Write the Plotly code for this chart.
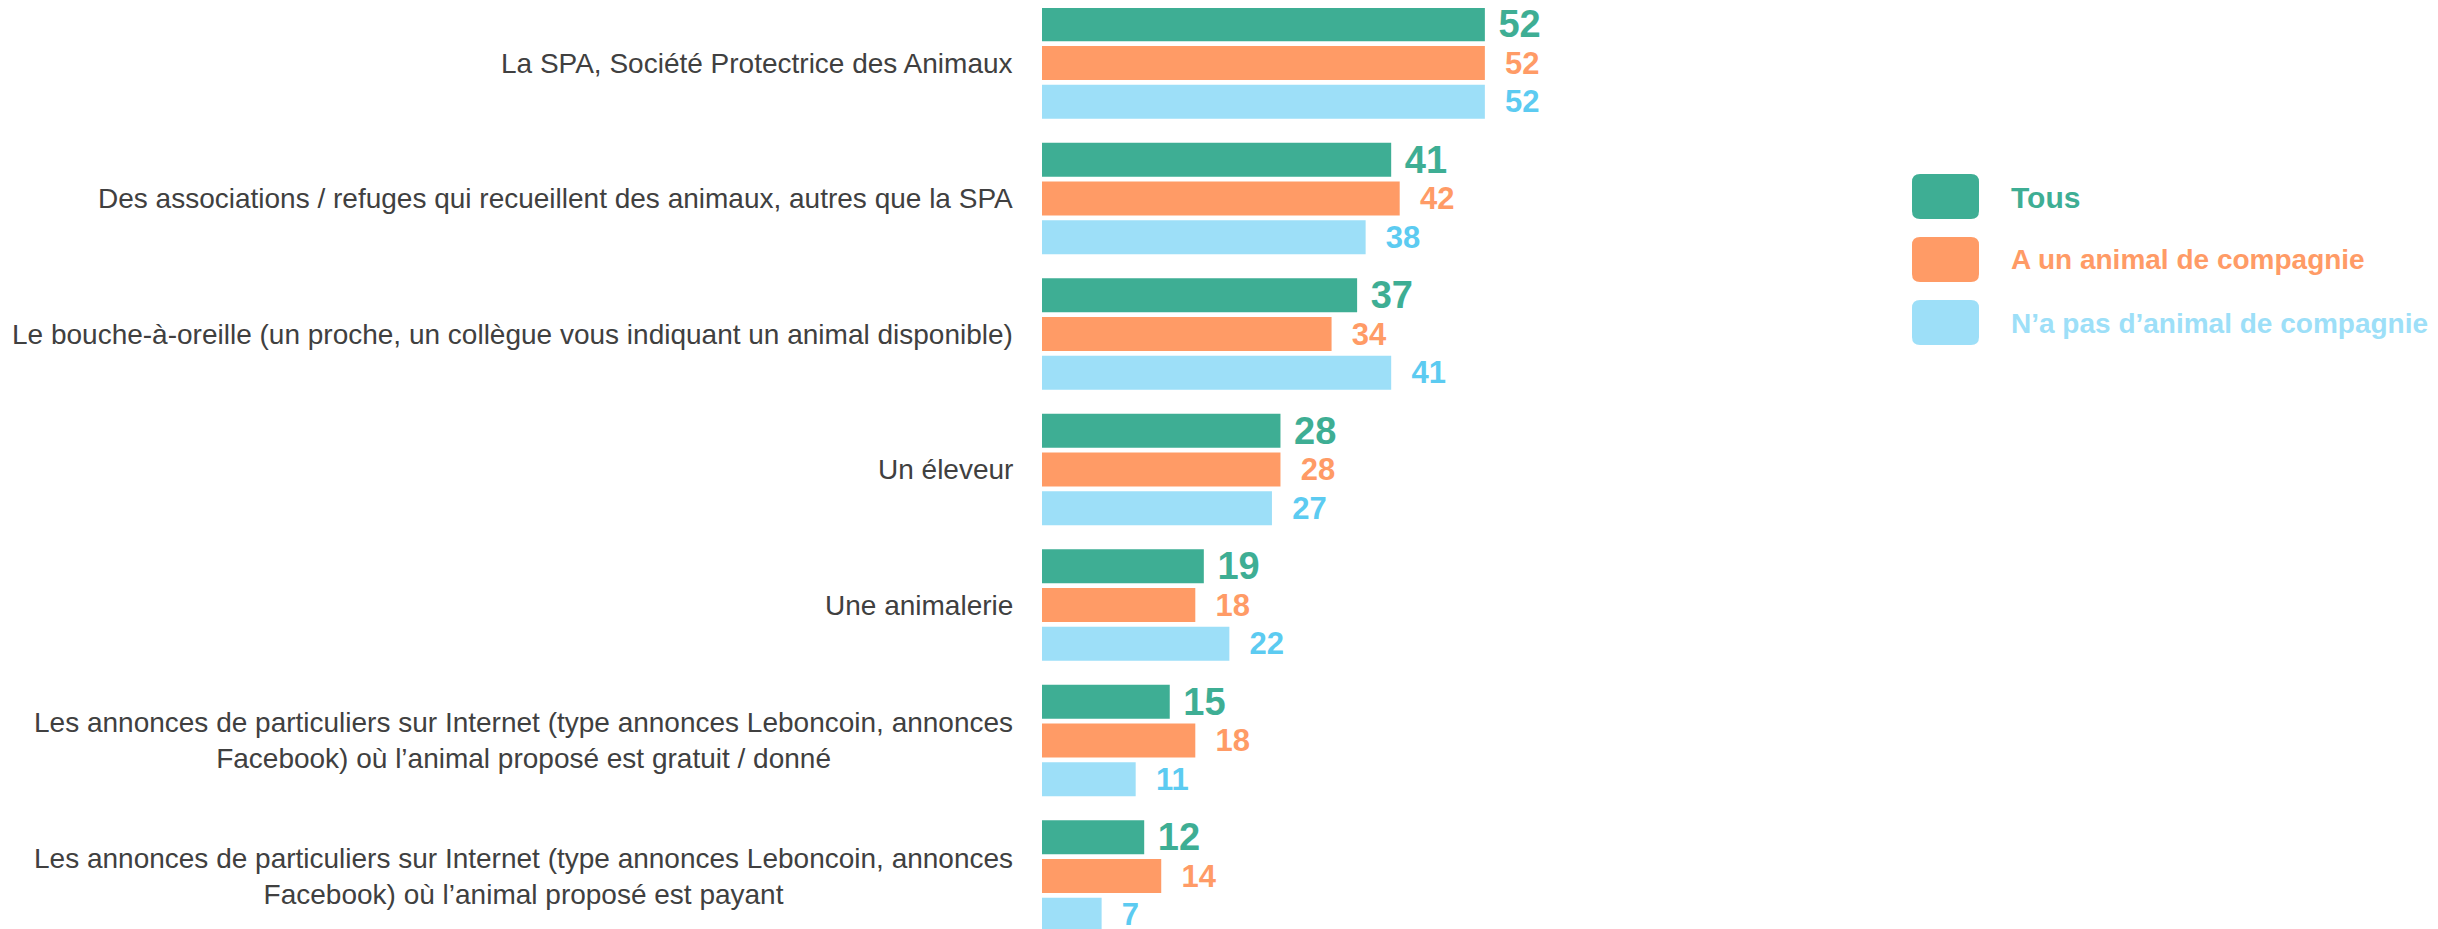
import plotly.graph_objects as go

WIDTH = 2438
HEIGHT = 929

CATEGORIES = [
    "La SPA, Société Protectrice des Animaux",
    "Des associations / refuges qui recueillent des animaux, autres que la SPA",
    "Le bouche-à-oreille (un proche, un collègue vous indiquant un animal disponible)",
    "Un éleveur",
    "Une animalerie",
    "Les annonces de particuliers sur Internet (type annonces Leboncoin, annonces<br>Facebook) où l’animal proposé est gratuit / donné",
    "Les annonces de particuliers sur Internet (type annonces Leboncoin, annonces<br>Facebook) où l’animal proposé est payant",
]
SERIES_NAMES = ["Tous", "A un animal de compagnie", "N’a pas d’animal de compagnie"]
TOUS = [52, 41, 37, 28, 19, 15, 12]
AVEC_ANIMAL = [52, 42, 34, 28, 18, 18, 14]
SANS_ANIMAL = [52, 38, 41, 27, 22, 11, 7]

BAR_COLORS = ["#3eae94", "#ff9b66", "#9ddff8"]
VALUE_COLORS = ["#3eae94", "#ff9b66", "#5ccbf1"]
LEGEND_TEXT_COLORS = ["#3eae94", "#ff9b66", "#9ddff8"]
FONT = "Liberation Sans, Arial, sans-serif"

# the page body adds an 8px offset, so figure pixels are page pixels minus 8
OFFSET = 8
LEFT = 1042 - OFFSET
PLOT_W = 511
X_MAX = 60
FIRST_CENTER = 63 - OFFSET
PITCH = 135.5


def px(x):
    return (x - OFFSET - LEFT) / PLOT_W


def py(y):
    return 1 - (y - OFFSET) / HEIGHT


def rounded_rect(x0, y0, x1, y1, r):
    rx, ry = r / PLOT_W, r / HEIGHT
    a, b, c, d = px(x0), py(y0), px(x1), py(y1)
    return (
        f"M {a + rx},{b} L {c - rx},{b} Q {c},{b} {c},{b - ry} "
        f"L {c},{d + ry} Q {c},{d} {c - rx},{d} "
        f"L {a + rx},{d} Q {a},{d} {a},{d + ry} "
        f"L {a},{b - ry} Q {a},{b} {a + rx},{b} Z"
    )


fig = go.Figure()
series = [TOUS, AVEC_ANIMAL, SANS_ANIMAL]
for i, (name, values) in enumerate(zip(SERIES_NAMES, series)):
    big = i == 0
    fig.add_trace(
        go.Bar(
            x=values,
            y=CATEGORIES,
            orientation="h",
            name=name,
            marker={"color": BAR_COLORS[i], "line": {"width": 0}},
            texttemplate=("\u00a0" if big else "\u00a0\u00a0") + "%{x}",
            textposition="outside",
            textfont={
                "family": FONT,
                "size": 38 if big else 31,
                "color": VALUE_COLORS[i],
                "weight": "bold",
            },
            constraintext="none",
            cliponaxis=False,
            showlegend=False,
        )
    )

annotations = []
for cat in CATEGORIES:
    annotations.append(
        dict(
            x=0,
            xref="paper",
            y=cat,
            yref="y",
            xanchor="right",
            xshift=-27,
            yanchor="middle",
            align="center",
            text=cat,
            showarrow=False,
            font={"family": FONT, "size": 28, "color": "#404040"},
        )
    )

shapes = []
legend_tops = [174, 237, 300]
for i, name in enumerate(SERIES_NAMES):
    top = legend_tops[i]
    shapes.append(
        dict(
            type="path",
            xref="paper",
            yref="paper",
            path=rounded_rect(1912, top, 1979, top + 45, 8),
            fillcolor=BAR_COLORS[i],
            line={"width": 0},
        )
    )
    annotations.append(
        dict(
            x=px(2009),
            xref="paper",
            y=py(top + 23),
            yref="paper",
            xanchor="left",
            yanchor="middle",
            text=f"<b>{name}</b>",
            showarrow=False,
            font={"family": FONT, "size": 30 if i == 0 else 28, "color": LEGEND_TEXT_COLORS[i]},
        )
    )

fig.update_layout(
    width=WIDTH,
    height=HEIGHT,
    margin={"l": LEFT, "r": WIDTH - LEFT - PLOT_W, "t": 0, "b": 0, "pad": 0},
    paper_bgcolor="#ffffff",
    plot_bgcolor="#ffffff",
    barmode="group",
    bargap=0.141,
    bargroupgap=0.124,
    annotations=annotations,
    shapes=shapes,
    font={"family": FONT},
)
fig.update_xaxes(range=[0, X_MAX], visible=False, showgrid=False, zeroline=False)
fig.update_yaxes(
    type="category",
    categoryorder="array",
    categoryarray=CATEGORIES,
    range=[(HEIGHT - FIRST_CENTER) / PITCH, -FIRST_CENTER / PITCH],
    showticklabels=False,
    showgrid=False,
    zeroline=False,
    showline=False,
    ticks="",
)

fig.write_html("out.html")
